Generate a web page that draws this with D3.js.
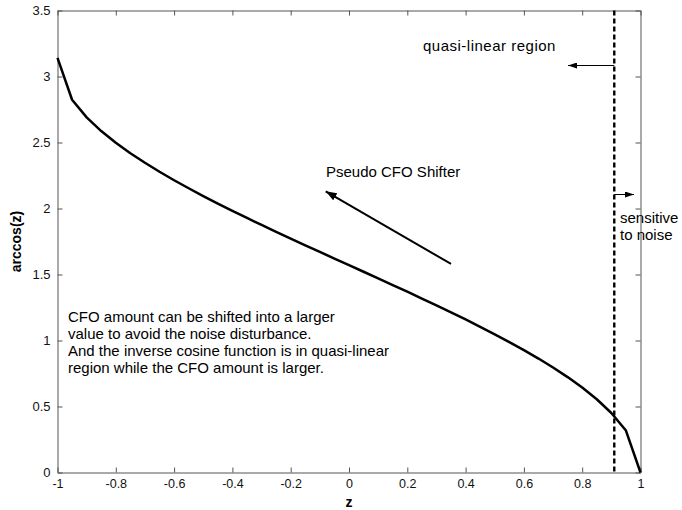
<!DOCTYPE html>
<html>
<head>
<meta charset="utf-8">
<script src="https://cdn.jsdelivr.net/npm/d3@7"></script>
<style>
  html, body { margin: 0; padding: 0; background: #fff; }
  svg { display: block; font-family: Arial, "Liberation Sans", sans-serif; }
</style>
</head>
<body>
<svg id="chart" width="682" height="510"></svg>
<script>
// Sampled inverse cosine curve
const zValues = [-1, -0.95, -0.9, -0.85, -0.8, -0.75, -0.7, -0.65, -0.6, -0.55, -0.5,
  -0.45, -0.4, -0.35, -0.3, -0.25, -0.2, -0.15, -0.1, -0.05, 0,
  0.05, 0.1, 0.15, 0.2, 0.25, 0.3, 0.35, 0.4, 0.45, 0.5,
  0.55, 0.6, 0.65, 0.7, 0.75, 0.8, 0.85, 0.9, 0.95, 1];
const arccosValues = [3.1416, 2.8240, 2.6906, 2.5868, 2.4981, 2.4189, 2.3462, 2.2784, 2.2143, 2.1532, 2.0944,
  2.0376, 1.9823, 1.9284, 1.8755, 1.8235, 1.7722, 1.7214, 1.6710, 1.6208, 1.5708,
  1.5208, 1.4706, 1.4202, 1.3694, 1.3181, 1.2661, 1.2132, 1.1593, 1.1040, 1.0472,
  0.9884, 0.9273, 0.8632, 0.7954, 0.7227, 0.6435, 0.5548, 0.4510, 0.3176, 0];

const xTicks = [-1, -0.8, -0.6, -0.4, -0.2, 0, 0.2, 0.4, 0.6, 0.8, 1];
const yTicks = [0, 0.5, 1, 1.5, 2, 2.5, 3, 3.5];
const xTickLabels = ["-1", "-0.8", "-0.6", "-0.4", "-0.2", "0", "0.2", "0.4", "0.6", "0.8", "1"];
const yTickLabels = ["0", "0.5", "1", "1.5", "2", "2.5", "3", "3.5"];

// Boundary between the quasi-linear and noise-sensitive parts
const boundaryZ = 0.91;
// Direction of the CFO shift, in data coordinates (from, to)
const shifterFrom = [0.35, 1.58];
const shifterTo = [-0.08, 2.13];

const noteLines = [
  "CFO amount can be shifted into a larger",
  "value to avoid the noise disturbance.",
  "And the inverse cosine function is in quasi-linear",
  "region while the CFO amount is larger."
];

const svg = d3.select("#chart");
const plotLeft = 57.5, plotRight = 640.5, plotTop = 10.5, plotBottom = 472.5;

const x = d3.scaleLinear().domain([-1, 1]).range([plotLeft, plotRight]);
const y = d3.scaleLinear().domain([0, 3.5]).range([plotBottom, plotTop]);

const axisColor = "#555";
const tickLen = 5;

// Arrowheads
const defs = svg.append("defs");
function arrowMarker(id, len, wid) {
  defs.append("marker")
    .attr("id", id)
    .attr("markerUnits", "userSpaceOnUse")
    .attr("viewBox", `0 0 ${len} ${wid}`)
    .attr("refX", len).attr("refY", wid / 2)
    .attr("markerWidth", len).attr("markerHeight", wid)
    .attr("orient", "auto")
    .append("path")
    .attr("d", `M0,0 L${len},${wid / 2} L0,${wid} Z`)
    .attr("fill", "#000");
}
arrowMarker("headSmall", 9, 6);
arrowMarker("headBig", 11, 8);

// Box and axes with inward ticks on all four sides
const bottomAxis = d3.axisBottom(x).tickValues(xTicks)
  .tickFormat((d, i) => xTickLabels[i]).tickSizeInner(-tickLen).tickSizeOuter(0).tickPadding(7);
const topAxis = d3.axisTop(x).tickValues(xTicks)
  .tickFormat("").tickSizeInner(-tickLen).tickSizeOuter(0);
const leftAxis = d3.axisLeft(y).tickValues(yTicks)
  .tickFormat((d, i) => yTickLabels[i]).tickSizeInner(-tickLen).tickSizeOuter(0).tickPadding(7);
const rightAxis = d3.axisRight(y).tickValues(yTicks)
  .tickFormat("").tickSizeInner(-tickLen).tickSizeOuter(0);

function styleAxis(g, size) {
  g.selectAll("path.domain").attr("stroke", axisColor).attr("stroke-width", 1);
  g.selectAll(".tick line").attr("stroke", axisColor).attr("stroke-width", 1);
  g.selectAll(".tick text").attr("fill", "#111").style("font-size", size)
    .style("font-family", "Arial, 'Liberation Sans', sans-serif");
}

svg.append("g").attr("transform", `translate(0,${plotBottom})`).call(bottomAxis).call(styleAxis, "12.5px");
svg.append("g").attr("transform", `translate(0,${plotTop})`).call(topAxis).call(styleAxis, "12.5px");
svg.append("g").attr("transform", `translate(${plotLeft},0)`).call(leftAxis).call(styleAxis, "13px");
svg.append("g").attr("transform", `translate(${plotRight},0)`).call(rightAxis).call(styleAxis, "13px");

// Axis titles
svg.append("text")
  .attr("x", x(0)).attr("y", 507)
  .attr("text-anchor", "middle")
  .style("font-size", "14px").style("font-weight", "bold")
  .text("z");
svg.append("text")
  .attr("transform", `translate(21,${(plotTop + plotBottom) / 2}) rotate(-90)`)
  .attr("text-anchor", "middle")
  .style("font-size", "14px").style("font-weight", "bold")
  .text("arccos(z)");

// The arccos(z) curve
const points = zValues.map((z, i) => [z, arccosValues[i]]);
svg.append("path")
  .datum(points)
  .attr("fill", "none")
  .attr("stroke", "#000")
  .attr("stroke-width", 2.5)
  .attr("stroke-linejoin", "round")
  .attr("d", d3.line().x(d => x(d[0])).y(d => y(d[1])));

// Dashed boundary line
svg.append("line")
  .attr("x1", x(boundaryZ)).attr("x2", x(boundaryZ))
  .attr("y1", y(3.5)).attr("y2", y(0))
  .attr("stroke", "#000").attr("stroke-width", 2.4)
  .attr("stroke-dasharray", "5,3");

// Region annotations
svg.append("text")
  .attr("x", 423).attr("y", 51)
  .style("font-size", "15px").style("letter-spacing", "0.5px")
  .text("quasi-linear region");
svg.append("line")
  .attr("x1", x(boundaryZ)).attr("y1", 65.5)
  .attr("x2", 568).attr("y2", 65.5)
  .attr("stroke", "#000").attr("stroke-width", 1)
  .attr("marker-end", "url(#headSmall)");

svg.append("line")
  .attr("x1", x(boundaryZ)).attr("y1", 194.5)
  .attr("x2", 634).attr("y2", 194.5)
  .attr("stroke", "#000").attr("stroke-width", 1)
  .attr("marker-end", "url(#headSmall)");
svg.append("text")
  .attr("x", 620).attr("y", 223)
  .style("font-size", "15px")
  .text("sensitive");
svg.append("text")
  .attr("x", 620).attr("y", 240)
  .style("font-size", "15px")
  .text("to noise");

// Pseudo CFO shifter arrow
svg.append("text")
  .attr("x", 326).attr("y", 177)
  .style("font-size", "15px")
  .text("Pseudo CFO Shifter");
svg.append("line")
  .attr("x1", x(shifterFrom[0])).attr("y1", y(shifterFrom[1]))
  .attr("x2", x(shifterTo[0])).attr("y2", y(shifterTo[1]))
  .attr("stroke", "#000").attr("stroke-width", 2)
  .attr("marker-end", "url(#headBig)");

// Explanatory note
svg.append("text")
  .attr("x", 68).attr("y", 322)
  .style("font-size", "15px")
  .selectAll("tspan")
  .data(noteLines)
  .join("tspan")
  .attr("x", 68)
  .attr("dy", (d, i) => i === 0 ? 0 : 17)
  .text(d => d);
</script>
</body>
</html>
